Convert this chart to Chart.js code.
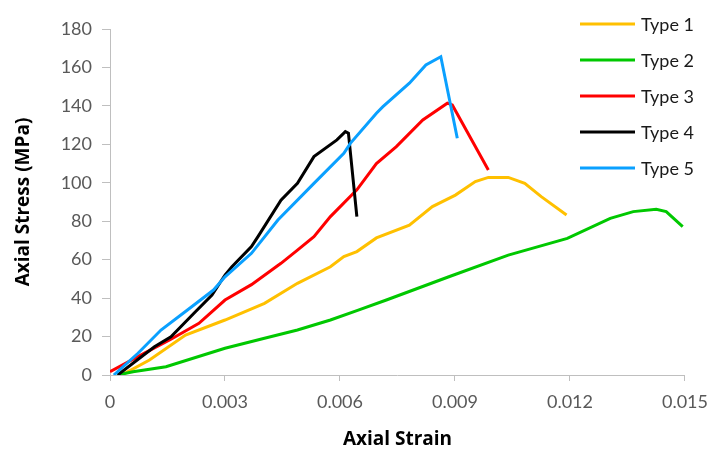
<!DOCTYPE html>
<html>
<head>
<meta charset="utf-8">
<script src="https://cdn.jsdelivr.net/npm/chart.js@4.4.1/dist/chart.umd.min.js"></script>
<style>
  html, body { margin: 0; padding: 0; background: #fff; }
  #wrap { width: 718px; height: 451px; }
</style>
</head>
<body>
<div id="wrap"><canvas id="myChart" width="718" height="451"></canvas></div>
<script>
// series: strain / stress (MPa)
var type1Strain = [0.0002, 0.0004, 0.00103, 0.00197, 0.003, 0.00403, 0.00489, 0.00575, 0.0061, 0.00644, 0.00695, 0.00781, 0.00841, 0.00901, 0.00953, 0.00987, 0.01039, 0.01082, 0.01125, 0.01191];
var type1Stress = [0, 1, 7.8, 20.8, 28.6, 37.3, 47.7, 56.3, 61.6, 64.2, 71.3, 78, 87.6, 93.6, 100.6, 102.8, 102.8, 99.7, 92.8, 83.2];

var type2Strain = [0.0002, 0.0006, 0.00146, 0.003, 0.00403, 0.00489, 0.00575, 0.00644, 0.00721, 0.00884, 0.01039, 0.01193, 0.01305, 0.01365, 0.01425, 0.01451, 0.01494];
var type2Stress = [0, 1.7, 4.3, 13.9, 19.1, 23.4, 28.6, 33.5, 39, 51.1, 62.4, 71.1, 81.5, 85, 86.2, 85, 77.2];

var type3Strain = [0, 0.0009, 0.00159, 0.00232, 0.003, 0.00369, 0.00446, 0.00489, 0.00532, 0.00575, 0.00644, 0.00695, 0.00747, 0.00816, 0.0088, 0.00893, 0.00987];
var type3Stress = [1.7, 11.4, 18.6, 26.9, 39, 47, 58.1, 65, 72, 82.4, 96.3, 110, 118.8, 132.7, 141.4, 140.5, 106.7];

var type4Strain = [0.0002, 0.00116, 0.00159, 0.00219, 0.00266, 0.003, 0.00318, 0.00369, 0.00386, 0.00446, 0.00489, 0.00532, 0.00592, 0.00614, 0.00622, 0.00644];
var type4Stress = [0, 14.7, 19.9, 32.1, 41.6, 52, 56.3, 66.8, 72, 91, 99.7, 113.6, 122.3, 126.6, 125.8, 82.4];

var type5Strain = [0.0001, 0.00073, 0.00133, 0.00202, 0.0027, 0.003, 0.00369, 0.00438, 0.00532, 0.0061, 0.00627, 0.00695, 0.00712, 0.00781, 0.00824, 0.00863, 0.00906];
var type5Stress = [0, 11.3, 23.4, 33.8, 44.2, 51.1, 63.3, 80.6, 99.7, 115.3, 120.5, 136.2, 139.6, 151.8, 161.3, 165.6, 123.2];

var seriesNames = ['Type 1', 'Type 2', 'Type 3', 'Type 4', 'Type 5'];
var seriesColors = ['#FFC000', '#00C800', '#FF0000', '#000000', '#0AA0FF'];
var xTicks = [0, 0.003, 0.006, 0.009, 0.012, 0.015];
var yTicks = [0, 20, 40, 60, 80, 100, 120, 140, 160, 180];

var strains = [type1Strain, type2Strain, type3Strain, type4Strain, type5Strain];
var stresses = [type1Stress, type2Stress, type3Stress, type4Stress, type5Stress];

function toPoints(xs, ys) {
    var pts = [];
    for (var i = 0; i < xs.length; i++) {
        pts.push({x: xs[i], y: ys[i]});
    }
    return pts;
}

var datasets = seriesNames.map(function(name, i) {
    return {
        label: name,
        data: toPoints(strains[i], stresses[i]),
        borderColor: seriesColors[i],
        backgroundColor: seriesColors[i],
        borderWidth: 3,
        pointRadius: 0,
        showLine: true,
        fill: false,
        tension: 0,
        order: seriesNames.length - 1 - i // later series on top, like the original
    };
});

// legend drawn by hand so it sits over the plot area on the right
var sideLegend = {
    id: 'sideLegend',
    afterDraw: function(chart) {
        var ctx = chart.ctx;
        ctx.save();
        ctx.font = '18px Lato';
        ctx.textBaseline = 'middle';
        ctx.textAlign = 'left';
        chart.data.datasets.forEach(function(ds, i) {
            var y = 24 + i * 36;
            ctx.strokeStyle = ds.borderColor;
            ctx.lineWidth = 3;
            ctx.beginPath();
            ctx.moveTo(580, y);
            ctx.lineTo(635, y);
            ctx.stroke();
            ctx.fillStyle = '#1a1a1a';
            ctx.fillText(ds.label, 641, y + 1);
        });
        ctx.restore();
    }
};

var ctx = document.getElementById('myChart').getContext('2d');
var chart = new Chart(ctx, {
    type: 'scatter',
    data: { datasets: datasets },
    plugins: [sideLegend],
    options: {
        responsive: false,
        animation: false,
        layout: { padding: { left: 0, right: 26, top: 29, bottom: 0 } },
        plugins: {
            legend: { display: false },
            tooltip: { enabled: false }
        },
        scales: {
            x: {
                type: 'linear',
                min: 0,
                max: 0.015,
                afterBuildTicks: function(scale) {
                    scale.ticks = xTicks.map(function(v) { return {value: v}; });
                },
                afterFit: function(scale) { scale.height = 76; },
                ticks: {
                    color: '#595959',
                    font: { family: 'Lato', size: 18 },
                    padding: 10,
                    callback: function(v) { return v === 0 ? '0' : v.toFixed(3); }
                },
                grid: { display: true, drawOnChartArea: false, drawTicks: true, tickLength: 6, color: '#bfbfbf' },
                border: { color: '#bfbfbf', width: 1 },
                title: {
                    display: true,
                    text: 'Axial Strain',
                    color: '#000',
                    font: { family: 'Open Sans', size: 19, weight: 'bold' },
                    padding: { top: 10, bottom: 0 }
                }
            },
            y: {
                type: 'linear',
                min: 0,
                max: 180,
                afterBuildTicks: function(scale) {
                    scale.ticks = yTicks.map(function(v) { return {value: v}; });
                },
                afterFit: function(scale) { scale.width = 110; },
                ticks: {
                    color: '#595959',
                    font: { family: 'Lato', size: 18 },
                    padding: 10
                },
                grid: { display: true, drawOnChartArea: false, drawTicks: true, tickLength: 8, color: '#bfbfbf' },
                border: { color: '#bfbfbf', width: 1 },
                title: {
                    display: true,
                    text: 'Axial Stress (MPa)',
                    color: '#000',
                    font: { family: 'Open Sans', size: 19, weight: 'bold' },
                    padding: { top: 12, bottom: 0 }
                }
            }
        }
    }
});
</script>
</body>
</html>
